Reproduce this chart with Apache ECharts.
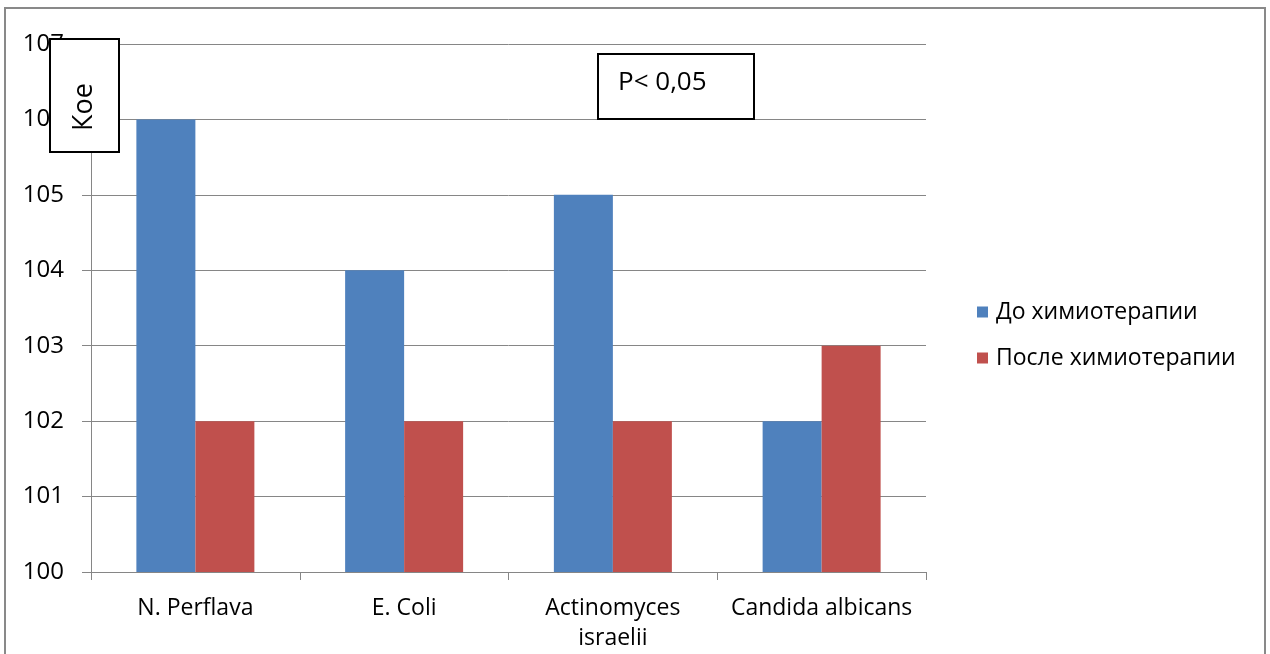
<!DOCTYPE html>
<html><head><meta charset="utf-8">
<script src="https://cdn.jsdelivr.net/npm/echarts@6/dist/echarts.min.js"></script>
<style>html,body{margin:0;padding:0;background:#fff}#c{width:1270px;height:654px}</style>
</head><body><div id="c"></div>
<script>
var categories = ['N. Perflava', 'E. Coli', 'Actinomyces\nisraelii', 'Candida albicans'];
var seriesNames = ['До химиотерапии', 'После химиотерапии'];
var before = [106, 104, 105, 102];
var after = [102, 102, 102, 103];
var yMin = 100, yMax = 107, yStep = 1;
var ff = '"Open Sans", "Liberation Sans", sans-serif';
var chart = echarts.init(document.getElementById('c'));
chart.setOption({
  animation: false,
  grid: {left: 91, right: 344, top: 44, bottom: 82, containLabel: false},
  legend: {
    orient: 'vertical', left: 972, top: 295, itemWidth: 11, itemHeight: 11, itemGap: 22,
    icon: 'rect', textStyle: {fontFamily: ff, fontSize: 23, lineHeight: 24, color: '#000', padding: [0, 0, 0, 3]},
    data: seriesNames
  },
  xAxis: {
    type: 'category', data: categories,
    axisLine: {lineStyle: {color: '#868686', width: 1}},
    axisTick: {show: true, length: 8, lineStyle: {color: '#868686'}},
    axisLabel: {fontFamily: ff, fontSize: 23, color: '#000', margin: 21, lineHeight: 30, interval: 0}
  },
  yAxis: {
    type: 'value', min: yMin, max: yMax, interval: yStep,
    axisLine: {show: true, lineStyle: {color: '#868686'}},
    axisTick: {show: true, length: 9, lineStyle: {color: '#868686'}},
    splitLine: {lineStyle: {color: '#868686', width: 1}},
    axisLabel: {fontFamily: ff, fontSize: 24, color: '#000', margin: 27}
  },
  series: [
    {name: seriesNames[0], type: 'bar', data: before, barWidth: 59, barGap: '0%', itemStyle: {color: '#4F81BD'}},
    {name: seriesNames[1], type: 'bar', data: after, barWidth: 59, barGap: '0%', itemStyle: {color: '#C0504D'}}
  ],
  graphic: [
    {type: 'rect', shape: {x: 5, y: 8, width: 1260, height: 660}, style: {fill: 'none', stroke: '#898989', lineWidth: 2}, z: 0, silent: true},
    {type: 'rect', shape: {x: 50, y: 39, width: 69, height: 113}, style: {fill: '#fff', stroke: '#000', lineWidth: 2}, z: 100},
    {type: 'text', x: 84, y: 107, rotation: Math.PI / 2, style: {text: 'Кое', fontFamily: ff, fontSize: 27, fill: '#000', align: 'center', verticalAlign: 'middle'}, z: 101},
    {type: 'rect', shape: {x: 598, y: 54, width: 156, height: 65}, style: {fill: '#fff', stroke: '#000', lineWidth: 2}, z: 100},
    {type: 'text', x: 618, y: 83, style: {text: 'P< 0,05', fontFamily: ff, fontSize: 26, fill: '#000', align: 'left', verticalAlign: 'middle'}, z: 101}
  ]
});
</script></body></html>
